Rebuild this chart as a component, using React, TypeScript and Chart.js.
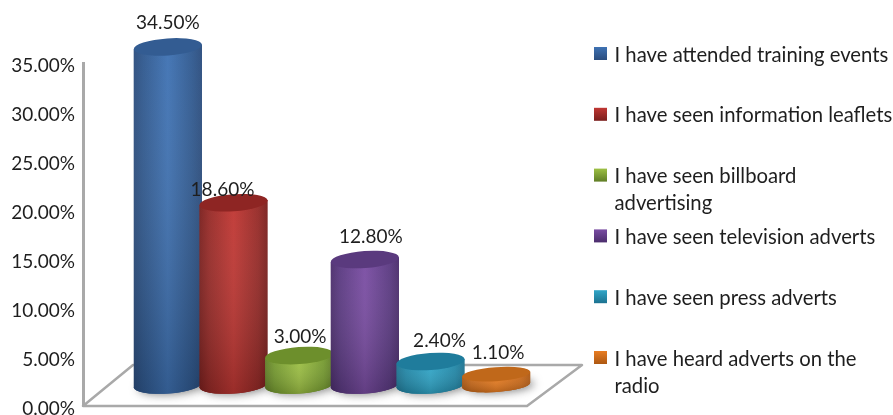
import React, { useEffect, useRef } from "react";
import { Chart, registerables } from "chart.js";

Chart.register(...registerables);

const categories = [
  "I have attended training events",
  "I have seen information leaflets",
  "I have seen billboard advertising",
  "I have seen television adverts",
  "I have seen press adverts",
  "I have heard adverts on the radio",
];
const legendLines = [
  ["I have attended training events"],
  ["I have seen information leaflets"],
  ["I have seen billboard", "advertising"],
  ["I have seen television adverts"],
  ["I have seen press adverts"],
  ["I have heard adverts on the", "radio"],
];
const shares = [34.5, 18.6, 3.0, 12.8, 2.4, 1.1];
const axisMax = 35;
const axisStep = 5;

// Per-cylinder colours: edge, centre, lid, lower edge
const palette = [
  { edge: "#2b4d7e", mid: "#3f72b3", lid: "#335c92", low: "#30598f" },
  { edge: "#7a1f1d", mid: "#c03733", lid: "#8e2523", low: "#962a27" },
  { edge: "#5f7d25", mid: "#9dc044", lid: "#6d8f2c", low: "#759a2f" },
  { edge: "#4b2d6c", mid: "#7a4da3", lid: "#5a3a7e", low: "#5b3a82" },
  { edge: "#1c7290", mid: "#31a6c8", lid: "#1f7c9c", low: "#2288a8" },
  { edge: "#ad5812", mid: "#e87d22", lid: "#c0681a", low: "#c8691a" },
];

const FONT = "Lato, Carlito, sans-serif";
const TEXT = "#1e1e1e";
const FRAME = "#a9a9a9";
const FONT_SIZE = 19;
const KEY_FONT_SIZE = 20.3;

// Depth of the floor and where the cylinders stand on it
const floorDepth = { x: 50, y: -41 };
const baseShift = { x: 52, y: -21 };
const tilt = -0.07;
const radiusY = 8.5;
// Label nudges relative to each cylinder's lid
const labelNudge = [
  [0, -24],
  [-11, -13],
  [1, -19],
  [6, -23],
  [9, -21],
  [2, -21],
];

const floorPlugin = {
  id: "floor",
  beforeDatasetsDraw(chart: any) {
    const { ctx, chartArea } = chart;
    const { left, bottom } = chartArea;
    const frontRight = left + 444;
    ctx.save();
    ctx.strokeStyle = FRAME;
    ctx.lineWidth = 2.5;
    ctx.lineJoin = "round";
    ctx.beginPath();
    ctx.moveTo(left, bottom);
    ctx.lineTo(frontRight, bottom);
    ctx.lineTo(frontRight + floorDepth.x + 5, bottom + floorDepth.y);
    ctx.lineTo(left + floorDepth.x, bottom + floorDepth.y);
    ctx.closePath();
    ctx.stroke();
    ctx.restore();
  },
};

function ellipsePath(ctx: any, cx: number, cy: number, rx: number, ry: number) {
  ctx.beginPath();
  ctx.ellipse(cx, cy, rx, ry, tilt, 0, Math.PI * 2);
}

const cylinderPlugin = {
  id: "cylinders",
  afterDatasetsDraw(chart: any) {
    const { ctx } = chart;
    const bars = chart.getDatasetMeta(0).data;
    const step = bars.length > 1 ? bars[1].x - bars[0].x : 60;
    const rx = step * 0.52;
    bars.forEach((bar: any, i: number) => {
      const c = palette[i];
      const ry = i === 5 ? radiusY - 1.5 : radiusY;
      const cx = bar.x + baseShift.x;
      const topY = bar.y + baseShift.y;
      const baseY = bar.base + baseShift.y;
      const dy = Math.sin(tilt) * rx;

      ctx.save();
      // Soft shadow cast on the floor
      ctx.shadowColor = "rgba(40,40,40,0.55)";
      ctx.shadowBlur = 9;
      ctx.shadowOffsetX = 4;
      ctx.shadowOffsetY = 1;
      ctx.fillStyle = c.edge;
      ellipsePath(ctx, cx, baseY, rx, ry);
      ctx.fill();
      ctx.restore();

      ctx.save();
      ctx.beginPath();
      ctx.moveTo(cx - rx, topY - dy);
      ctx.lineTo(cx + rx, topY + dy);
      ctx.lineTo(cx + rx, baseY + dy);
      ctx.ellipse(cx, baseY, rx, ry, tilt, 0, Math.PI);
      ctx.closePath();
      ctx.clip();
      const across = ctx.createLinearGradient(cx - rx, 0, cx + rx, 0);
      across.addColorStop(0, c.edge);
      across.addColorStop(0.14, c.low);
      across.addColorStop(0.5, c.mid);
      across.addColorStop(0.86, c.low);
      across.addColorStop(1, c.edge);
      ctx.fillStyle = across;
      ctx.fillRect(cx - rx - 1, topY - rx, rx * 2 + 2, baseY - topY + rx + ry + 12);
      const down = ctx.createLinearGradient(0, topY, 0, baseY + ry);
      down.addColorStop(0, "rgba(255,255,255,0.04)");
      down.addColorStop(1, "rgba(0,0,0,0.2)");
      ctx.fillStyle = down;
      ctx.fillRect(cx - rx - 1, topY - rx, rx * 2 + 2, baseY - topY + rx + ry + 12);
      ctx.restore();

      ctx.fillStyle = c.lid;
      ellipsePath(ctx, cx, topY, rx, ry);
      ctx.fill();
    });

    // Value labels above each cylinder
    ctx.save();
    ctx.font = `${FONT_SIZE}px ${FONT}`;
    ctx.fillStyle = TEXT;
    ctx.textAlign = "center";
    ctx.textBaseline = "middle";
    bars.forEach((bar: any, i: number) => {
      const [nx, ny] = labelNudge[i];
      ctx.fillText(
        shares[i].toFixed(2) + "%",
        bar.x + baseShift.x + nx,
        bar.y + baseShift.y + ny
      );
    });
    ctx.restore();
  },
};

const keyPlugin = {
  id: "key",
  afterDraw(chart: any) {
    const { ctx } = chart;
    const swatchX = 594;
    const textX = 614.5;
    const firstY = 53.5;
    const textDrop = 1.5;
    const rowGap = 60.8;
    const lineGap = 27;
    ctx.save();
    ctx.font = `${KEY_FONT_SIZE}px ${FONT}`;
    ctx.textBaseline = "middle";
    ctx.textAlign = "left";
    legendLines.forEach((lines, i) => {
      const y = firstY + i * rowGap;
      const g = ctx.createLinearGradient(0, y - 6.5, 0, y + 6.5);
      g.addColorStop(0, palette[i].mid);
      g.addColorStop(1, palette[i].edge);
      ctx.fillStyle = g;
      ctx.fillRect(swatchX, y - 6.5, 13, 13);
      ctx.fillStyle = TEXT;
      lines.forEach((line, k) => ctx.fillText(line, textX, y + textDrop + k * lineGap));
    });
    ctx.restore();
  },
};

export default function App() {
  const ref = useRef<HTMLCanvasElement>(null);
  useEffect(() => {
    document.body.style.margin = "0";
    const chart = new Chart(ref.current!, {
      type: "bar",
      data: {
        labels: categories,
        datasets: [
          {
            data: shares,
            backgroundColor: "transparent",
            barPercentage: 1,
            categoryPercentage: 1,
          },
        ],
      },
      plugins: [floorPlugin, cylinderPlugin, keyPlugin],
      options: {
        animation: false,
        responsive: false,
        layout: { padding: { top: 63, bottom: 9, left: 0, right: 416 } },
        plugins: {
          legend: { display: false },
          title: { display: false },
          tooltip: { enabled: false },
        },
        scales: {
          x: { display: false },
          y: {
            min: 0,
            max: axisMax,
            afterFit(scale: any) {
              scale.width = 83;
              scale.paddingTop = 0;
              scale.paddingBottom = 0;
            },
            grid: { display: false, drawTicks: false },
            border: { display: true, color: FRAME, width: 3 },
            ticks: {
              stepSize: axisStep,
              padding: 8,
              labelOffset: 2.5,
              color: TEXT,
              font: { family: FONT, size: FONT_SIZE },
              callback: (v: any) => Number(v).toFixed(2) + "%",
            },
          },
        },
      },
    } as any);
    return () => chart.destroy();
  }, []);
  return <canvas ref={ref} width={893} height={415} style={{ display: "block" }} />;
}
